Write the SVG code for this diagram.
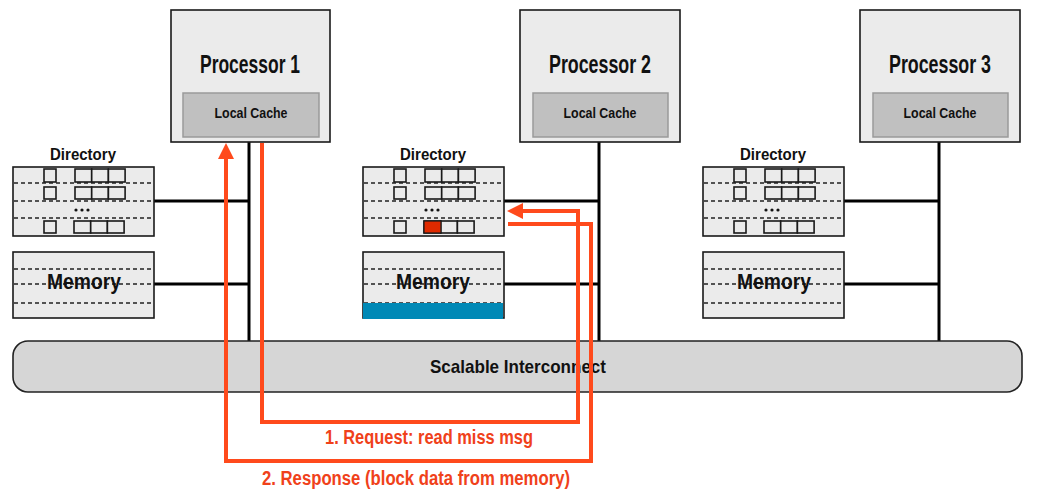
<svg xmlns="http://www.w3.org/2000/svg" width="1040" height="496" viewBox="0 0 1040 496">
<style>
.bx{fill:#ebebeb;stroke:#1a1a1a;stroke-width:1.6}
.cache{fill:#c0c0c0;stroke:#9a9a9a;stroke-width:1.5}
.cell{fill:#ebebeb;stroke:#1a1a1a;stroke-width:1.6}
.dash{stroke:#222;stroke-width:1.6;stroke-dasharray:4 3;fill:none}
.wire{stroke:#000;stroke-width:3;fill:none}
.t{font-family:"Liberation Sans",Arial,sans-serif;font-weight:bold;fill:#111;text-anchor:middle}
.pt{font-size:25px}
.ct{font-size:15.5px}
.dt{font-size:17px}
.mt{font-size:22px}
.ot{font-family:"Liberation Sans",Arial,sans-serif;font-weight:bold;fill:#f0411a;font-size:20px;text-anchor:middle}
.msg{stroke:#ff4a1c;stroke-width:4;fill:none}
</style>
<defs>
<marker id="ah" markerUnits="userSpaceOnUse" markerWidth="17" markerHeight="17" viewBox="0 0 17 17" refX="1" refY="8" orient="auto">
<path d="M0,0 L16,8 L0,16 z" fill="#ff4a1c"/>
</marker>
<g id="dirbody">
<rect class="bx" x="0" y="0" width="141" height="69"/>
<line class="dash" x1="1" y1="16" x2="140" y2="16"/>
<line class="dash" x1="1" y1="34" x2="140" y2="34"/>
<line class="dash" x1="1" y1="51" x2="140" y2="51"/>
<rect class="cell" x="31" y="2" width="12" height="13"/>
<rect class="cell" x="62" y="2" width="16.7" height="13"/>
<rect class="cell" x="78.7" y="2" width="16.7" height="13"/>
<rect class="cell" x="95.4" y="2" width="16.7" height="13"/>
<rect class="cell" x="31" y="20" width="12" height="12"/>
<rect class="cell" x="62" y="20" width="16.7" height="12"/>
<rect class="cell" x="78.7" y="20" width="16.7" height="12"/>
<rect class="cell" x="95.4" y="20" width="16.7" height="12"/>
<rect class="cell" x="31" y="54" width="12" height="12"/>
<rect class="cell" x="61" y="54" width="16.7" height="12"/>
<rect class="cell" x="77.7" y="54" width="16.7" height="12"/>
<rect class="cell" x="94.4" y="54" width="16.7" height="12"/>
<circle cx="63" cy="43" r="1.6" fill="#111"/>
<circle cx="69" cy="43" r="1.6" fill="#111"/>
<circle cx="75" cy="43" r="1.6" fill="#111"/>
</g>
<g id="membody">
<rect class="bx" x="0" y="0" width="141" height="66"/>
<line class="dash" x1="1" y1="17" x2="140" y2="17"/>
<line class="dash" x1="1" y1="32" x2="140" y2="32"/>
<line class="dash" x1="1" y1="51" x2="140" y2="51"/>
</g>
</defs>
<rect width="1040" height="496" fill="#fff"/>

<g id="connectors">
<line class="wire" x1="249" y1="142" x2="249" y2="342"/>
<line class="wire" x1="599" y1="142" x2="599" y2="342"/>
<line class="wire" x1="939" y1="142" x2="939" y2="342"/>
<line class="wire" x1="154" y1="201" x2="249" y2="201"/>
<line class="wire" x1="154" y1="284" x2="249" y2="284"/>
<line class="wire" x1="503" y1="201" x2="599" y2="201"/>
<line class="wire" x1="503" y1="284" x2="599" y2="284"/>
<line class="wire" x1="844" y1="201" x2="939" y2="201"/>
<line class="wire" x1="844" y1="284" x2="939" y2="284"/>
</g>

<g id="proc1">
<rect class="bx" x="171" y="10" width="159" height="132"/>
<text class="t pt" x="250" y="73" textLength="100" lengthAdjust="spacingAndGlyphs">Processor 1</text>
<rect class="cache" x="183" y="93" width="136" height="44"/>
<text class="t ct" x="251" y="118" textLength="73" lengthAdjust="spacingAndGlyphs">Local Cache</text>
</g>
<g id="proc2">
<rect class="bx" x="520" y="10" width="160" height="132"/>
<text class="t pt" x="600" y="73" textLength="102" lengthAdjust="spacingAndGlyphs">Processor 2</text>
<rect class="cache" x="533" y="93" width="135" height="44"/>
<text class="t ct" x="600" y="118" textLength="73" lengthAdjust="spacingAndGlyphs">Local Cache</text>
</g>
<g id="proc3">
<rect class="bx" x="860" y="10" width="160" height="132"/>
<text class="t pt" x="940" y="73" textLength="102" lengthAdjust="spacingAndGlyphs">Processor 3</text>
<rect class="cache" x="873" y="93" width="135" height="44"/>
<text class="t ct" x="940" y="118" textLength="73" lengthAdjust="spacingAndGlyphs">Local Cache</text>
</g>

<g id="dir1">
<text class="t dt" x="83" y="160" textLength="66" lengthAdjust="spacingAndGlyphs">Directory</text>
<use href="#dirbody" x="13" y="167"/>
</g>
<g id="dir2">
<text class="t dt" x="433" y="160" textLength="66" lengthAdjust="spacingAndGlyphs">Directory</text>
<use href="#dirbody" x="363" y="167"/>
<rect x="424" y="221" width="17" height="12" fill="#e02a00" stroke="#1a1a1a" stroke-width="1.2"/>
</g>
<g id="dir3">
<text class="t dt" x="773" y="160" textLength="66" lengthAdjust="spacingAndGlyphs">Directory</text>
<use href="#dirbody" x="703" y="167"/>
</g>

<g id="mem1">
<use href="#membody" x="13" y="252"/>
<text class="t mt" x="84" y="289" textLength="74" lengthAdjust="spacingAndGlyphs">Memory</text>
</g>
<g id="mem2">
<use href="#membody" x="363" y="252"/>
<rect x="363" y="303" width="140" height="16" fill="#0089b6"/>
<text class="t mt" x="433" y="289" textLength="74" lengthAdjust="spacingAndGlyphs">Memory</text>
</g>
<g id="mem3">
<use href="#membody" x="703" y="252"/>
<text class="t mt" x="774" y="289" textLength="74" lengthAdjust="spacingAndGlyphs">Memory</text>
</g>

<g id="interconnect">
<rect x="13" y="341" width="1009" height="51" rx="15" fill="#d6d6d6" stroke="#222" stroke-width="1.6"/>
<text class="t" x="518" y="373" font-size="19" textLength="176" lengthAdjust="spacingAndGlyphs">Scalable Interconnect</text>
</g>

<g id="messages">
<path class="msg" d="M262,143 V422 H578 V211 H522" marker-end="url(#ah)"/>
<path class="msg" d="M508,224 H591 V461 H226 V158" marker-end="url(#ah)"/>
<text class="ot" x="429" y="444" textLength="208" lengthAdjust="spacingAndGlyphs">1. Request: read miss msg</text>
<text class="ot" x="416" y="485" textLength="308" lengthAdjust="spacingAndGlyphs">2. Response (block data from memory)</text>
</g>
</svg>
